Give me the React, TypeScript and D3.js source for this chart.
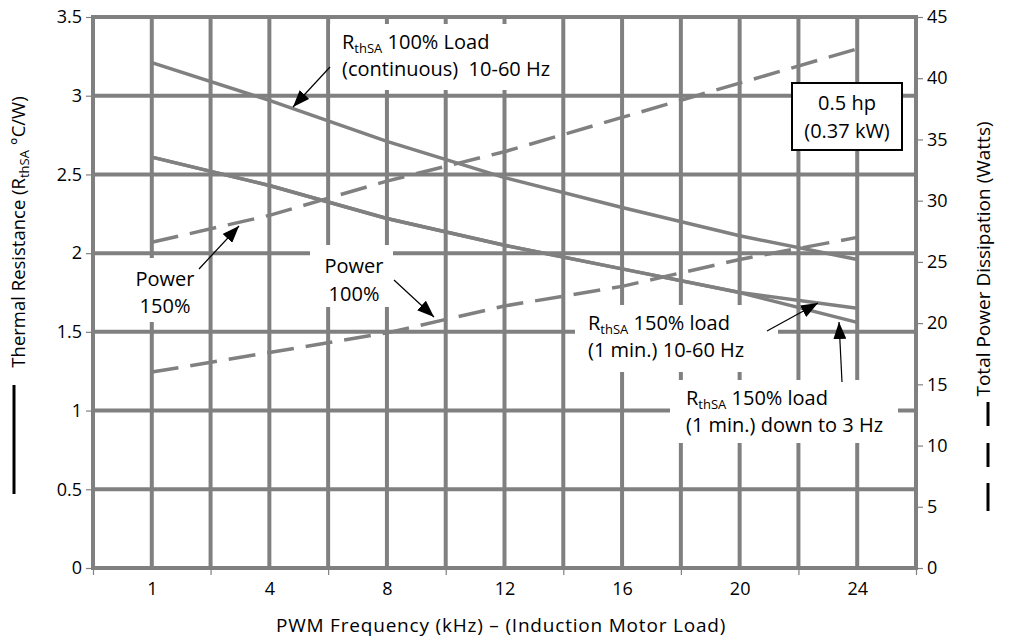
import React, { useEffect, useRef } from "react";
import * as d3 from "d3";

// PWM frequency categories (kHz) - equally spaced on the chart
const freqs = ["1", "4", "8", "12", "16", "20", "24"];

// thermal resistance, left axis (°C/W)
const rth100 = [3.21, 2.97, 2.71, 2.48, 2.29, 2.11, 1.96];
const rth150 = [2.61, 2.43, 2.22, 2.05, 1.9, 1.75, 1.65];
const rth150Low = [2.61, 2.43, 2.22, 2.05, 1.9, 1.75, 1.56];

// total power dissipation, right axis (W)
const power150 = [26.6, 28.8, 31.6, 34.0, 36.8, 39.6, 42.4];
const power100 = [16.0, 17.6, 19.2, 21.4, 23.0, 25.2, 27.0];

const leftTicks = [0, 0.5, 1, 1.5, 2, 2.5, 3, 3.5];
const rightTicks = [0, 5, 10, 15, 20, 25, 30, 35, 40, 45];

const W = 1012;
const H = 640;
const left = 93;
const right = 916;
const top = 17;
const bottom = 568;

const GRAY = "#808080";
const FONT = "'Open Sans', sans-serif";

const x = d3.scaleLinear().domain([-0.5, freqs.length - 0.5]).range([left, right]);
const yL = d3.scaleLinear().domain([0, 3.5]).range([bottom, top]);
const yR = d3.scaleLinear().domain([0, 45]).range([bottom, top]);

const lineL = d3
  .line<number>()
  .x((_, i) => x(i))
  .y((d) => yL(d));
const lineR = d3
  .line<number>()
  .x((_, i) => x(i))
  .y((d) => yR(d));

// subscript followed by normal text
const SubThen = ({ sub, rest, size = 13 }: { sub: string; rest: string; size?: number }) => (
  <>
    <tspan fontSize={size} dy={3.5}>
      {sub}
    </tspan>
    <tspan dy={-3.5}>{rest}</tspan>
  </>
);

export default function App() {
  const leftAxisRef = useRef<SVGGElement>(null);
  const rightAxisRef = useRef<SVGGElement>(null);
  const bottomTicksRef = useRef<SVGGElement>(null);
  const bottomLabelsRef = useRef<SVGGElement>(null);

  useEffect(() => {
    const style = (g: d3.Selection<SVGGElement, unknown, null, undefined>) => {
      g.select(".domain").remove();
      g.selectAll(".tick line").attr("stroke", GRAY).attr("stroke-width", 1.2);
      g.selectAll(".tick text")
        .attr("fill", "#000")
        .style("font-family", FONT)
        .style("font-size", "18px");
    };

    const gl = d3.select(leftAxisRef.current!);
    gl.call(d3.axisLeft(yL).tickValues(leftTicks).tickSize(5).tickPadding(4).tickFormat(d3.format("")));
    style(gl);

    const gr = d3.select(rightAxisRef.current!);
    gr.call(d3.axisRight(yR).tickValues(rightTicks).tickSize(5).tickPadding(4).tickFormat(d3.format("")));
    style(gr);

    const boundaries = d3.range(-0.5, freqs.length, 1);
    const gbt = d3.select(bottomTicksRef.current!);
    gbt.call(d3.axisBottom(x).tickValues(boundaries).tickSize(5).tickFormat(() => ""));
    style(gbt);

    const gbl = d3.select(bottomLabelsRef.current!);
    gbl.call(
      d3
        .axisBottom(x)
        .tickValues(d3.range(freqs.length))
        .tickSize(0)
        .tickPadding(12)
        .tickFormat((d) => freqs[d as number])
    );
    style(gbl);
  }, []);

  const vGrid = d3.range(-0.5, freqs.length, 0.5);

  const whiteBoxes = [
    { x: 330, y: 24, w: 230, h: 66 },
    { x: 133, y: 258, w: 64, h: 64 },
    { x: 310, y: 245, w: 83, h: 62 },
    { x: 575, y: 305, w: 203, h: 67 },
    { x: 670, y: 380, w: 228, h: 63 },
  ];

  const arrows = [
    { x1: 330, y1: 67, x2: 293, y2: 107 },
    { x1: 199, y1: 269, x2: 239, y2: 226 },
    { x1: 394, y1: 280, x2: 434, y2: 317 },
    { x1: 767, y1: 331, x2: 818, y2: 303 },
    { x1: 842, y1: 382, x2: 839, y2: 322 },
  ];

  const annFont = 20;

  return (
    <svg
      width={W}
      height={H}
      style={{ position: "absolute", left: 0, top: 0, background: "#fff" }}
      fontFamily={FONT}
    >
      <defs>
        <marker
          id="head"
          markerUnits="userSpaceOnUse"
          markerWidth={18}
          markerHeight={13}
          refX={17}
          refY={6.5}
          orient="auto"
        >
          <path d="M0,0 L17,6.5 L0,13 Z" fill="#000" />
        </marker>
      </defs>

      {/* grid */}
      <g stroke={GRAY} strokeWidth={4}>
        {vGrid.map((v) => (
          <line key={"v" + v} x1={x(v)} x2={x(v)} y1={top} y2={bottom} />
        ))}
        {leftTicks.map((t) => (
          <line key={"h" + t} x1={left - 2} x2={right + 2} y1={yL(t)} y2={yL(t)} />
        ))}
      </g>

      {/* white label backgrounds */}
      {whiteBoxes.map((b, i) => (
        <rect key={i} x={b.x} y={b.y} width={b.w} height={b.h} fill="#fff" />
      ))}

      {/* axes */}
      <g ref={leftAxisRef} transform={`translate(${left - 2},0)`} />
      <g ref={rightAxisRef} transform={`translate(${right + 2},0)`} />
      <g ref={bottomTicksRef} transform={`translate(0,${bottom + 2})`} />
      <g ref={bottomLabelsRef} transform={`translate(0,${bottom + 2})`} />

      {/* series */}
      <g fill="none" stroke={GRAY} strokeWidth={3.5}>
        <path d={lineL(rth100) ?? ""} />
        <path d={lineL(rth150) ?? ""} />
        <path d={lineL(rth150Low) ?? ""} />
        <path d={lineR(power150) ?? ""} strokeDasharray="27 12" />
        <path d={lineR(power100) ?? ""} strokeDasharray="27 12" />
      </g>

      {/* annotations */}
      <g fontSize={annFont} fill="#000">
        <text x={342} y={49}>
          R<SubThen sub="thSA" rest=" 100% Load" />
        </text>
        <text x={342} y={76} xmlSpace="preserve">
          (continuous)  10-60 Hz
        </text>

        <text x={165} y={286} textAnchor="middle">Power</text>
        <text x={165} y={313} textAnchor="middle">150%</text>

        <text x={354} y={273} textAnchor="middle">Power</text>
        <text x={354} y={301} textAnchor="middle">100%</text>

        <text x={588} y={330}>
          R<SubThen sub="thSA" rest=" 150% load" />
        </text>
        <text x={588} y={357}>(1 min.) 10-60 Hz</text>

        <text x={686} y={405}>
          R<SubThen sub="thSA" rest=" 150% load" />
        </text>
        <text x={686} y={432}>(1 min.) down to 3 Hz</text>

        <rect x={792} y={83} width={110} height={67} fill="#fff" stroke="#000" strokeWidth={2} />
        <text x={847} y={110} textAnchor="middle">0.5 hp</text>
        <text x={847} y={138} textAnchor="middle">(0.37 kW)</text>
      </g>

      {arrows.map((a, i) => (
        <line
          key={i}
          x1={a.x1}
          y1={a.y1}
          x2={a.x2}
          y2={a.y2}
          stroke="#000"
          strokeWidth={1.2}
          markerEnd="url(#head)"
        />
      ))}

      {/* axis titles */}
      <text
        transform="translate(25,232) rotate(-90)"
        textAnchor="middle"
        fontSize={18.5}
        fill="#000"
      >
        Thermal Resistance (R<SubThen sub="thSA" rest=" °C/W)" size={13} />
      </text>
      <line x1={14} x2={14} y1={385} y2={494} stroke="#000" strokeWidth={3} />

      <text
        transform="translate(990,259) rotate(-90)"
        textAnchor="middle"
        fontSize={19}
        fill="#000"
      >
        Total Power Dissipation (Watts)
      </text>
      <g stroke="#000" strokeWidth={3}>
        <line x1={988} x2={988} y1={402} y2={426} />
        <line x1={988} x2={988} y1={443} y2={467} />
        <line x1={988} x2={988} y1={483} y2={511} />
      </g>

      <text x={501} y={632} textAnchor="middle" fontSize={19} letterSpacing={0.8} fill="#000">
        PWM Frequency (kHz) – (Induction Motor Load)
      </text>
    </svg>
  );
}
